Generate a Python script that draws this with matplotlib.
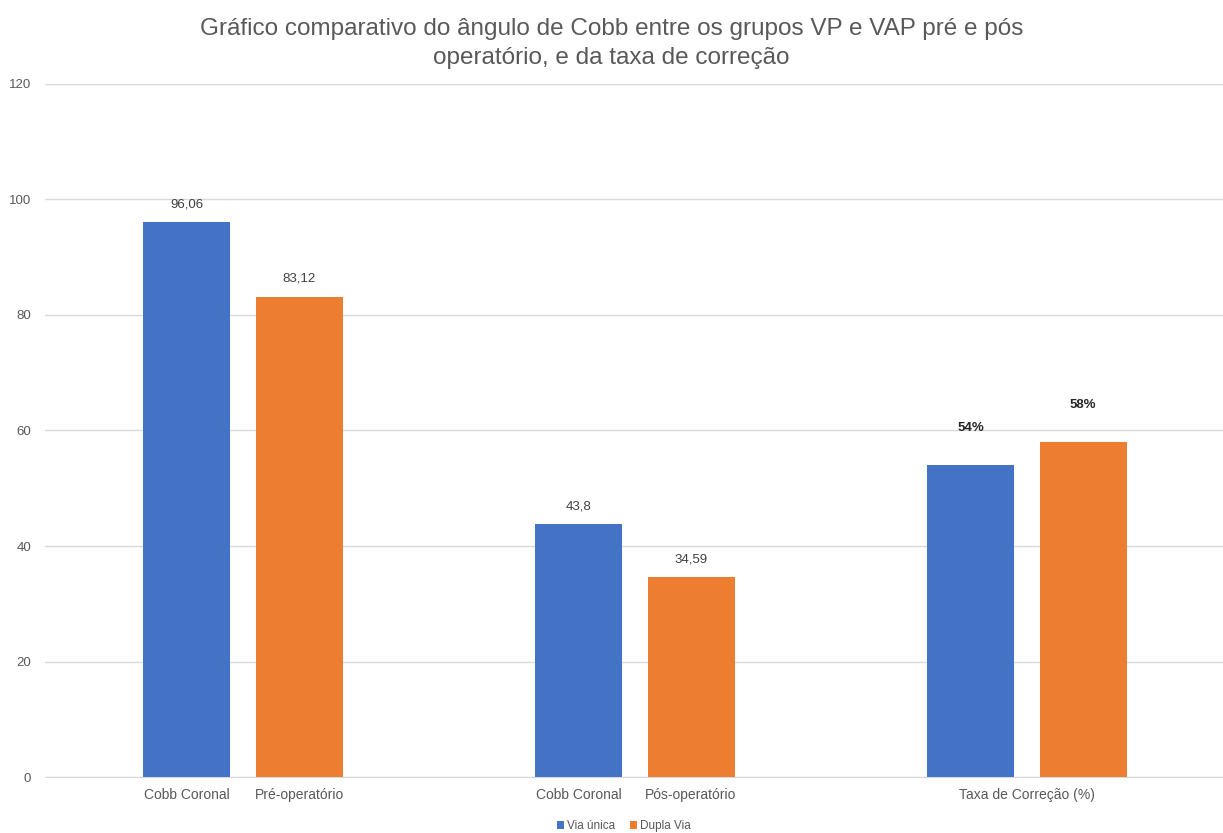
import numpy as np
import matplotlib
matplotlib.use("Agg")
import matplotlib.pyplot as plt

plt.rcParams['font.family'] = ['Liberation Sans', 'DejaVu Sans']

groups = ["Pré-operatório", "Pós-operatório", "Taxa de Correção (%)"]
series = ["Via única", "Dupla Via"]
via_unica = [96.06, 43.8, 54]
dupla_via = [83.12, 34.59, 58]
value_labels = [["96,06", "43,8", "54%"], ["83,12", "34,59", "58%"]]
tick_labels = ["Cobb Coronal", "Pré-operatório", "Cobb Coronal", "Pós-operatório",
               "Taxa de Correção (%)"]
title = ("Gráfico comparativo do ângulo de Cobb entre os grupos VP e VAP pré e pós\n"
         "operatório, e da taxa de correção")

colors = ["#4472C4", "#ED7D31"]
width = 0.222
offset = 0.143

fig = plt.figure(figsize=(12.23, 8.33), dpi=100)
ax = fig.add_axes([0.0368, 0.0672, 0.9632, 0.832])

x = np.arange(len(groups))
for i, (vals, col) in enumerate(zip([via_unica, dupla_via], colors)):
    pos = x + (offset if i else -offset)
    ax.bar(pos, vals, width, color=col, label=series[i], zorder=3)
    for j, (p, v) in enumerate(zip(pos, vals)):
        pct = j == 2
        # the percent labels sit higher above their bars
        ax.annotate(value_labels[i][j], (p, v), xytext=(0, 31 if pct else 12),
                    textcoords="offset pixels",
                    ha="center", va="bottom", fontsize=9.5,
                    color="#262626" if pct else "#404040",
                    fontweight="bold" if pct else "normal")

ax.set_xlim(-0.505, 2.5)
ax.set_ylim(0, 120)
ax.set_yticks(range(0, 121, 20))
ax.yaxis.grid(True, color="#d9d9d9", linewidth=1, zorder=0)
ax.tick_params(axis="both", length=0, colors="#595959", labelsize=9.5)
ax.tick_params(axis="x", pad=8, labelsize=10)
ax.tick_params(axis="y", pad=10)

ticks = [x[0] - offset, x[0] + offset, x[1] - offset, x[1] + offset, x[2]]
ax.set_xticks(ticks)
ax.set_xticklabels(tick_labels)

for s in ["top", "right", "left"]:
    ax.spines[s].set_visible(False)
ax.spines["bottom"].set_color("#d9d9d9")

fig.suptitle(title, y=0.978, fontsize=17.5, color="#595959", linespacing=1.4)

fig.legend(loc="lower center", bbox_to_anchor=(0.51, -0.012), ncol=2, frameon=False,
           fontsize=8.5, handlelength=0.6, handleheight=0.6, handletextpad=0.3,
           columnspacing=1.2, labelcolor="#595959")

fig.savefig("out.png", dpi=100)
